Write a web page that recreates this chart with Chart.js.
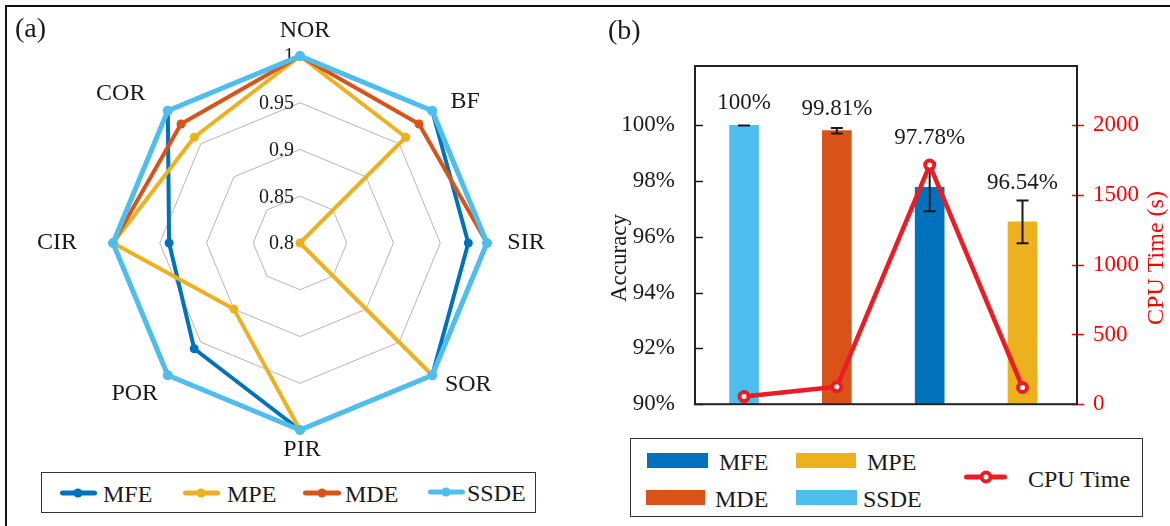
<!DOCTYPE html>
<html>
<head>
<meta charset="utf-8">
<script src="https://cdn.jsdelivr.net/npm/chart.js@4.4.1/dist/chart.umd.min.js"></script>
<style>
  body { margin: 0; background: #fff; }
  #fig { position: relative; width: 1170px; height: 526px; overflow: hidden; background: #fff;
         font-family: "Liberation Serif", "Times New Roman", serif; color: #1a1a1a; }
  .frame-top { position: absolute; left: 5px; top: 5px; width: 1165px; height: 2px; background: #111; }
  .frame-left { position: absolute; left: 5px; top: 5px; width: 2px; height: 521px; background: #111; }
  canvas { position: absolute; }
  .tag { position: absolute; font-size: 28px; line-height: 28px; white-space: nowrap; }
  .box { position: absolute; border: 1.5px solid #333; box-sizing: border-box; }
  .txt { position: absolute; font-size: 24px; line-height: 24px; white-space: nowrap; transform: translateY(-50%); }
  .ln { position: absolute; height: 5px; border-radius: 2.5px; transform: translateY(-50%); }
  .dot { position: absolute; width: 9px; height: 9px; border-radius: 50%; transform: translate(-50%, -50%); }
  .sw { position: absolute; }
  .ring { position: absolute; width: 5px; height: 5px; border-radius: 50%; border: 4px solid #ED1C24;
          background: #fff; transform: translate(-50%, -50%); }
</style>
</head>
<body>
<div id="fig">
  <div class="frame-top"></div>
  <div class="frame-left"></div>

  <canvas id="radar" width="590" height="470" style="left:0;top:0;width:590px;height:470px;"></canvas>
  <canvas id="bars" width="580" height="430" style="left:590px;top:0;width:580px;height:430px;"></canvas>

  <div class="tag" style="left:15px;top:14px;">(a)</div>
  <div class="tag" style="left:608px;top:16px;">(b)</div>

  <!-- legend of panel (a) -->
  <div class="box" style="left:41px;top:472px;width:495px;height:41px;"></div>
  <div class="ln" style="left:60px;top:493px;width:37px;background:#0072BD;"></div>
  <div class="dot" style="left:78px;top:493px;background:#0072BD;"></div>
  <div class="txt" style="left:103px;top:494px;">MFE</div>
  <div class="ln" style="left:183px;top:493px;width:37px;background:#EDB120;"></div>
  <div class="dot" style="left:201px;top:493px;background:#EDB120;"></div>
  <div class="txt" style="left:227px;top:494px;">MPE</div>
  <div class="ln" style="left:303px;top:493px;width:38px;background:#D95319;"></div>
  <div class="dot" style="left:322px;top:493px;background:#D95319;"></div>
  <div class="txt" style="left:345px;top:494px;">MDE</div>
  <div class="ln" style="left:428px;top:492px;width:37px;background:#4DBEEE;"></div>
  <div class="dot" style="left:446px;top:492px;background:#4DBEEE;"></div>
  <div class="txt" style="left:467px;top:493px;">SSDE</div>

  <!-- legend of panel (b) -->
  <div class="box" style="left:630px;top:438px;width:513px;height:79px;"></div>
  <div class="sw" style="left:647px;top:453px;width:61px;height:15px;background:#0072BD;"></div>
  <div class="txt" style="left:719px;top:462px;">MFE</div>
  <div class="sw" style="left:796px;top:453px;width:60px;height:15px;background:#EDB120;"></div>
  <div class="txt" style="left:867px;top:462px;">MPE</div>
  <div class="sw" style="left:646px;top:490px;width:59px;height:15px;background:#D95319;"></div>
  <div class="txt" style="left:715px;top:499px;">MDE</div>
  <div class="sw" style="left:796px;top:490px;width:61px;height:15px;background:#4DBEEE;"></div>
  <div class="txt" style="left:863px;top:499px;">SSDE</div>
  <div class="ln" style="left:964px;top:477px;width:43px;background:#ED1C24;"></div>
  <div class="ring" style="left:986px;top:477px;"></div>
  <div class="txt" style="left:1028px;top:479px;">CPU Time</div>
</div>

<script>
// ---- panel (a): per-condition scores of each method ----
const radarAxes  = ['NOR', 'BF', 'SIR', 'SOR', 'PIR', 'POR', 'CIR', 'COR'];
const mfeScores  = [1.00, 1.00, 0.98, 1.00, 1.00, 0.96, 0.94, 1.00];
const mpeScores  = [1.00, 0.96, 0.80, 1.00, 1.00, 0.90, 1.00, 0.96];
const mdeScores  = [1.00, 0.98, 1.00, 1.00, 1.00, 1.00, 1.00, 0.98];
const ssdeScores = [1.00, 1.00, 1.00, 1.00, 1.00, 1.00, 1.00, 1.00];
const radarTicks = [0.8, 0.85, 0.9, 0.95, 1];

// ---- panel (b): accuracy and run time ----
const methods      = ['SSDE', 'MDE', 'MFE', 'MPE'];
const accuracy     = [100, 99.81, 97.78, 96.54];
const accuracyErr  = [0, 0.10, 0.86, 0.77];
const cpuTime      = [55, 125, 1715, 120];
const accuracyTicks = [90, 92, 94, 96, 98, 100];
const cpuTicks      = [0, 500, 1000, 1500, 2000];

// colours
const COLORS = { MFE: '#0072BD', MPE: '#EDB120', MDE: '#D95319', SSDE: '#4DBEEE' };
const RED = '#ED1C24';
const SERIF = '"Liberation Serif", "Times New Roman", serif';

// label nudges around the radar (x, y) from each spoke end
const axisLabelNudge = [[5, -25], [33, -9], [39, 0], [36, 9], [2, 20], [-33, 18], [-56, 0], [-47, -17]];
// how far each value label sits above its error bar
const valueLabelLift = [22, 19, 25, 17];

function radarSet(label, data, width, radius, order) {
  const c = COLORS[label];
  return {
    label, data, order,
    borderColor: c, backgroundColor: c, fill: false,
    borderWidth: width, borderJoinStyle: 'round', tension: 0,
    pointRadius: radius, pointHoverRadius: radius,
    pointBackgroundColor: c, pointBorderWidth: 0
  };
}

const radarText = {
  id: 'radarText',
  beforeDatasetsDraw(chart) {
    const s = chart.scales.r;
    const ctx = chart.ctx;
    ctx.save();
    ctx.fillStyle = '#1a1a1a';
    ctx.font = '20px ' + SERIF;
    ctx.textAlign = 'right';
    ctx.textBaseline = 'middle';
    radarTicks.forEach(v => {
      const y = s.yCenter - s.getDistanceFromCenterForValue(v);
      ctx.fillText(String(v), s.xCenter - 6, y + 1);
    });
    ctx.font = '24px ' + SERIF;
    ctx.textAlign = 'center';
    radarAxes.forEach((name, i) => {
      const p = s.getPointPosition(i, s.drawingArea);
      const o = axisLabelNudge[i];
      ctx.fillText(name, p.x + o[0], p.y + o[1]);
    });
    ctx.restore();
  }
};

new Chart(document.getElementById('radar'), {
  type: 'radar',
  data: {
    labels: radarAxes,
    datasets: [
      radarSet('MFE', mfeScores, 4, 4.5, 4),
      radarSet('MPE', mpeScores, 4, 4.5, 3),
      radarSet('MDE', mdeScores, 4, 4.5, 2),
      radarSet('SSDE', ssdeScores, 5, 5, 1)
    ]
  },
  options: {
    responsive: false,
    animation: false,
    events: [],
    layout: { padding: { left: 113, top: 56, right: 103, bottom: 40 } },
    plugins: { legend: { display: false }, tooltip: { enabled: false } },
    scales: {
      r: {
        min: 0.8, max: 1.0,
        afterBuildTicks(scale) { scale.ticks = radarTicks.map(v => ({ value: v })); },
        ticks: { display: false },
        pointLabels: { display: false },
        angleLines: { display: false },
        grid: { color: '#b5b5b5', lineWidth: 1 }
      }
    }
  },
  plugins: [radarText]
});

// error bars drawn right after the bars, beneath the run-time line
const errorBars = {
  id: 'errorBars',
  afterDatasetDraw(chart, args) {
    if (args.meta.type !== 'bar') return;
    const ctx = chart.ctx, xs = chart.scales.x, ys = chart.scales.y;
    ctx.save();
    ctx.strokeStyle = '#1a1a1a';
    ctx.lineWidth = 2;
    accuracy.forEach((v, i) => {
      const x = xs.getPixelForValue(i + 1);
      const yTop = ys.getPixelForValue(v + accuracyErr[i]);
      const yBot = ys.getPixelForValue(v - accuracyErr[i]);
      ctx.beginPath();
      ctx.moveTo(x, yTop); ctx.lineTo(x, yBot);
      ctx.moveTo(x - 6, yTop); ctx.lineTo(x + 6, yTop);
      ctx.moveTo(x - 6, yBot); ctx.lineTo(x + 6, yBot);
      ctx.stroke();
    });
    ctx.restore();
  }
};

// axes box, inward ticks, value labels and axis titles
const axesDecor = {
  id: 'axesDecor',
  afterDraw(chart) {
    const ctx = chart.ctx, a = chart.chartArea;
    const xs = chart.scales.x, ys = chart.scales.y, y1 = chart.scales.y1;
    ctx.save();
    // left ticks
    ctx.strokeStyle = '#1a1a1a';
    ctx.lineWidth = 1.5;
    accuracyTicks.forEach(v => {
      const y = Math.round(ys.getPixelForValue(v)) + 0.5;
      ctx.beginPath(); ctx.moveTo(a.left, y); ctx.lineTo(a.left + 8, y); ctx.stroke();
    });
    // right ticks
    ctx.strokeStyle = '#ff0000';
    cpuTicks.forEach(v => {
      const y = Math.round(y1.getPixelForValue(v)) + 0.5;
      ctx.beginPath(); ctx.moveTo(a.right - 5, y); ctx.lineTo(a.right + 7, y); ctx.stroke();
    });
    // box
    ctx.strokeStyle = '#222';
    ctx.lineWidth = 2;
    ctx.strokeRect(a.left, a.top, a.right - a.left, a.bottom - a.top);

    // value labels above the bars
    ctx.fillStyle = '#1a1a1a';
    ctx.font = '23px ' + SERIF;
    ctx.textAlign = 'center';
    ctx.textBaseline = 'middle';
    accuracy.forEach((v, i) => {
      const x = xs.getPixelForValue(i + 1);
      const y = ys.getPixelForValue(v + accuracyErr[i]) - valueLabelLift[i];
      ctx.fillText(String(v) + '%', x, y);
    });

    // axis titles
    ctx.save();
    ctx.translate(30, 258);
    ctx.rotate(-Math.PI / 2);
    ctx.fillText('Accuracy', 0, 0);
    ctx.restore();
    ctx.save();
    ctx.translate(567, 258);
    ctx.rotate(-Math.PI / 2);
    ctx.fillStyle = '#ff0000';
    ctx.font = '24px ' + SERIF;
    ctx.fillText('CPU Time (s)', 0, 0);
    ctx.restore();
    ctx.restore();
  }
};

new Chart(document.getElementById('bars'), {
  type: 'bar',
  data: {
    datasets: [
      {
        type: 'line',
        label: 'CPU Time',
        data: methods.map((m, i) => ({ x: i + 1, y: cpuTime[i] })),
        yAxisID: 'y1',
        order: 1,
        borderColor: RED,
        borderWidth: 4.5,
        borderJoinStyle: 'round',
        tension: 0,
        pointRadius: 4.5,
        pointHoverRadius: 4.5,
        pointBorderWidth: 4,
        pointBorderColor: RED,
        pointBackgroundColor: '#fff',
        clip: false
      },
      {
        type: 'bar',
        label: 'Accuracy',
        data: methods.map((m, i) => ({ x: i + 1, y: accuracy[i] })),
        yAxisID: 'y',
        order: 2,
        backgroundColor: methods.map(m => COLORS[m]),
        barThickness: 29
      }
    ]
  },
  options: {
    responsive: false,
    animation: false,
    events: [],
    layout: { padding: { left: 0, right: 0, top: 66, bottom: 24 } },
    plugins: { legend: { display: false }, tooltip: { enabled: false } },
    scales: {
      x: { type: 'linear', min: 0.472, max: 4.587, display: false, offset: false },
      y: {
        position: 'left', min: 90, max: 102.13,
        afterBuildTicks(scale) { scale.ticks = accuracyTicks.map(v => ({ value: v })); },
        afterFit(scale) { scale.width = 105; },
        ticks: { callback: v => String(v) + '%', color: '#1a1a1a', padding: 12, font: { family: SERIF, size: 23 } },
        grid: { display: false },
        border: { display: false }
      },
      y1: {
        position: 'right', min: 0, max: 2426,
        afterBuildTicks(scale) { scale.ticks = cpuTicks.map(v => ({ value: v })); },
        afterFit(scale) { scale.width = 93; },
        ticks: { callback: v => String(v), color: '#ff0000', padding: 8, font: { family: SERIF, size: 23 } },
        grid: { display: false },
        border: { display: false }
      }
    }
  },
  plugins: [errorBars, axesDecor]
});
</script>
</body>
</html>
